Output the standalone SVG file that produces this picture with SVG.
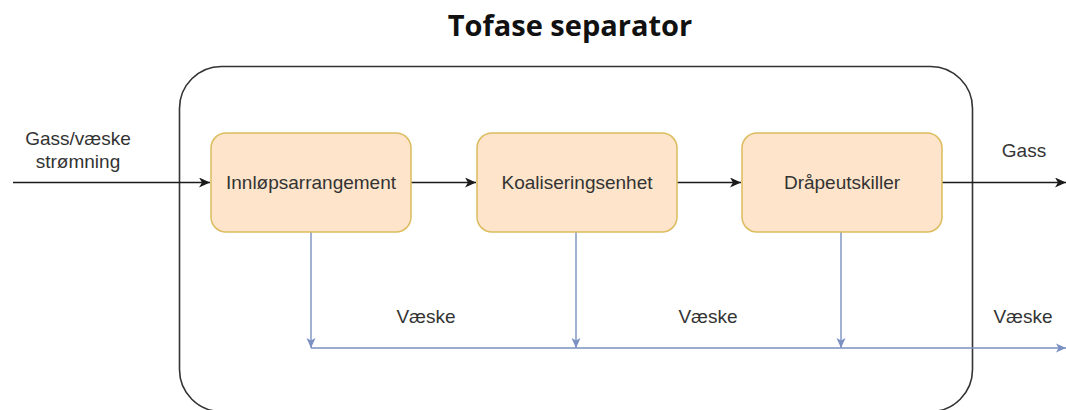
<svg xmlns="http://www.w3.org/2000/svg" width="1066" height="410" viewBox="0 0 1066 410">
  <style>
    .lbl { font-family: "Liberation Sans", Arial, sans-serif; font-size: 19px; fill: #333333; }
    .mid { text-anchor: middle; }
    .title { font-family: "Open Sans", "Liberation Sans", sans-serif; font-size: 29px; font-weight: 700; fill: #111111; text-anchor: middle; }
    .unit rect { fill: #fde4ca; stroke: #dcbc5e; stroke-width: 1.5; }
    .flow { fill: none; stroke: #1a1a1a; stroke-width: 1.6; }
    .liquid { fill: none; stroke: #7a90c2; stroke-width: 1.4; }
  </style>
  <defs>
    <marker id="arrow-black" markerUnits="userSpaceOnUse" markerWidth="12" markerHeight="10" refX="11" refY="5" orient="auto">
      <path d="M0,0 L11,5 L0,10 L3,5 Z" fill="#1a1a1a"/>
    </marker>
    <marker id="arrow-blue" markerUnits="userSpaceOnUse" markerWidth="11" markerHeight="10" refX="10" refY="5" orient="auto">
      <path d="M0,0.5 L10,5 L0,9.5 L2.5,5 Z" fill="#7a90c2"/>
    </marker>
  </defs>

  <rect width="1066" height="410" fill="#ffffff"/>

  <text class="title" x="570" y="36">Tofase separator</text>

  <!-- separator vessel -->
  <g id="vessel">
    <rect x="179.5" y="66.5" width="793" height="345" rx="42" ry="42" fill="none" stroke="#333333" stroke-width="1.6"/>
  </g>

  <!-- connectors -->
  <g id="connectors">
    <line class="flow" x1="13" y1="182.5" x2="210" y2="182.5" marker-end="url(#arrow-black)"/>
    <line class="flow" x1="411" y1="182.5" x2="476" y2="182.5" marker-end="url(#arrow-black)"/>
    <line class="flow" x1="677" y1="182.5" x2="741" y2="182.5" marker-end="url(#arrow-black)"/>
    <line class="flow" x1="942" y1="182.5" x2="1066" y2="182.5" marker-end="url(#arrow-black)"/>

    <line class="liquid" x1="311" y1="232" x2="311" y2="348" marker-end="url(#arrow-blue)"/>
    <line class="liquid" x1="576" y1="232" x2="576" y2="348" marker-end="url(#arrow-blue)"/>
    <line class="liquid" x1="841" y1="232" x2="841" y2="348" marker-end="url(#arrow-blue)"/>
    <line class="liquid" x1="311" y1="348" x2="1066" y2="348" marker-end="url(#arrow-blue)"/>

    <text class="lbl mid" x="78" y="145">Gass/væske</text>
    <text class="lbl mid" x="78" y="168">strømning</text>
    <text class="lbl mid" x="1024" y="157">Gass</text>
    <text class="lbl mid" x="426" y="323">Væske</text>
    <text class="lbl mid" x="708" y="323">Væske</text>
    <text class="lbl mid" x="1023" y="323">Væske</text>
  </g>

  <g id="innlop" class="unit">
    <rect x="211" y="133" width="200" height="99" rx="15" ry="15"/>
    <text class="lbl mid" x="311" y="189">Innløpsarrangement</text>
  </g>

  <g id="koalisering" class="unit">
    <rect x="477" y="133" width="200" height="99" rx="15" ry="15"/>
    <text class="lbl mid" x="577" y="189">Koaliseringsenhet</text>
  </g>

  <g id="draapeutskiller" class="unit">
    <rect x="742" y="133" width="200" height="99" rx="15" ry="15"/>
    <text class="lbl mid" x="842" y="189">Dråpeutskiller</text>
  </g>
</svg>
